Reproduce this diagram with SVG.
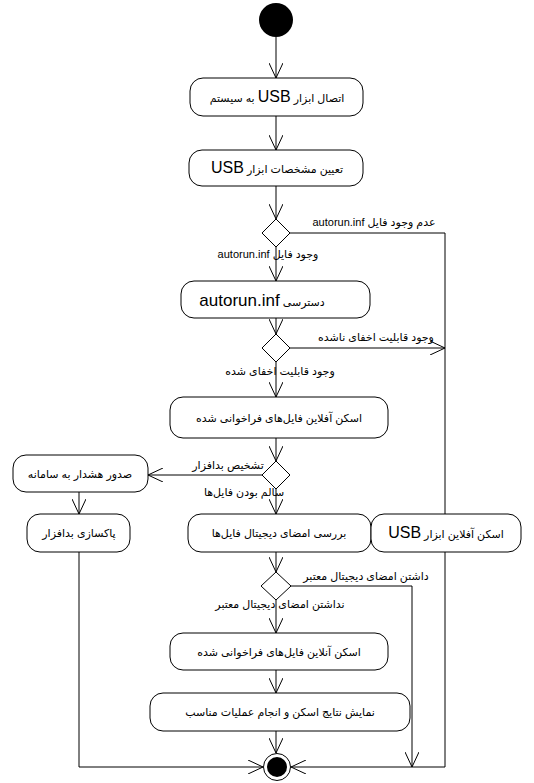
<svg xmlns="http://www.w3.org/2000/svg" width="534" height="783" viewBox="0 0 534 783">
<style>
.n{fill:#fff;stroke:#000;stroke-width:1}
.c{fill:none;stroke:#000;stroke-width:1}
text{font-family:"Liberation Sans","DejaVu Sans",sans-serif;font-size:11px;fill:#000}
.t{direction:rtl;text-anchor:middle}
.big{font-size:16px}
</style>
<defs>
<marker id="a" viewBox="0 0 15 14" refX="15" refY="7" markerWidth="15" markerHeight="14" markerUnits="userSpaceOnUse" orient="auto">
<path d="M0,0 L15,7 L0,14" fill="none" stroke="#000" stroke-width="1"/>
</marker>
</defs>
<rect width="534" height="783" fill="#fff"/>
<g id="connectors">
<path class="c" d="M276,37 V78" marker-end="url(#a)"/>
<path class="c" d="M276,116 V150" marker-end="url(#a)"/>
<path class="c" d="M276,186 V219" marker-end="url(#a)"/>
<path class="c" d="M290,233 H445 V514"/>
<path class="c" d="M276,247 V281" marker-end="url(#a)"/>
<path class="c" d="M276,318 V334" marker-end="url(#a)"/>
<path class="c" d="M290,348 H445" marker-end="url(#a)"/>
<path class="c" d="M276,362 V397" marker-end="url(#a)"/>
<path class="c" d="M276,438 V461" marker-end="url(#a)"/>
<path class="c" d="M263,475 H148" marker-end="url(#a)"/>
<path class="c" d="M276,489 V514" marker-end="url(#a)"/>
<path class="c" d="M79,492 V514" marker-end="url(#a)"/>
<path class="c" d="M79,552 V767 H263" marker-end="url(#a)"/>
<path class="c" d="M276,552 V572" marker-end="url(#a)"/>
<path class="c" d="M291,586 H412 V767" marker-end="url(#a)"/>
<path class="c" d="M276,600 V633" marker-end="url(#a)"/>
<path class="c" d="M276,670 V693" marker-end="url(#a)"/>
<path class="c" d="M276,731 V753" marker-end="url(#a)"/>
<path class="c" d="M445,552 V767 H291" marker-end="url(#a)"/>
</g>
<g id="start"><circle cx="276" cy="20" r="17" fill="#000"/></g>
<g id="n1"><rect class="n" x="190" y="78" width="173" height="38" rx="13"/>
<text class="t" x="277" y="102">اتصال ابزار <tspan class="big">USB</tspan> به سیستم</text></g>
<g id="n2"><rect class="n" x="189" y="150" width="174" height="36" rx="13"/>
<text class="t" x="277" y="173">تعیین مشخصات ابزار <tspan class="big">USB</tspan></text></g>
<g id="d1"><path class="n" d="M276,219 L290,233 L276,247 L262,233 Z"/>
<text class="t" x="374" y="226">عدم وجود فایل autorun.inf</text>
<text class="t" x="268" y="258">وجود فایل autorun.inf</text></g>
<g id="n3"><rect class="n" x="181" y="281" width="189" height="37" rx="13"/>
<text class="t" x="262" y="306">دسترسی <tspan font-size="17">autorun.inf</tspan></text></g>
<g id="d2"><path class="n" d="M276,334 L290,348 L276,362 L262,348 Z"/>
<text class="t" x="376" y="341">وجود قابلیت اخفای ناشده</text>
<text class="t" x="280" y="375">وجود قابلیت اخفای شده</text></g>
<g id="n4"><rect class="n" x="170" y="397" width="218" height="41" rx="13"/>
<text class="t" x="279" y="422">اسکن آفلاین فایل‌های فراخوانی شده</text></g>
<g id="d3"><path class="n" d="M276,461 L290,475 L276,489 L262,475 Z"/>
<text class="t" x="228" y="469">تشخیص بدافزار</text>
<text class="t" x="244" y="496">سالم بودن فایل‌ها</text></g>
<g id="n5"><rect class="n" x="13" y="455" width="135" height="37" rx="13"/>
<text class="t" x="80" y="478">صدور هشدار به سامانه</text></g>
<g id="n6"><rect class="n" x="27" y="514" width="103" height="38" rx="13"/>
<text class="t" x="79" y="537">پاکسازی بدافزار</text></g>
<g id="n7"><rect class="n" x="188" y="514" width="183" height="38" rx="13"/>
<text class="t" x="279" y="537">بررسی امضای دیجیتال فایل‌ها</text></g>
<g id="n8"><rect class="n" x="371" y="514" width="150" height="38" rx="13"/>
<text class="t" x="446" y="538">اسکن آفلاین ابزار <tspan class="big">USB</tspan></text></g>
<g id="d4"><path class="n" d="M276,572 L291,586 L276,600 L261,586 Z"/>
<text class="t" x="366" y="580">داشتن امضای دیجیتال معتبر</text>
<text class="t" x="280" y="608">نداشتن امضای دیجیتال معتبر</text></g>
<g id="n9"><rect class="n" x="170" y="633" width="218" height="37" rx="13"/>
<text class="t" x="279" y="656">اسکن آنلاین فایل‌های فراخوانی شده</text></g>
<g id="n10"><rect class="n" x="150" y="693" width="260" height="38" rx="13"/>
<text class="t" x="280" y="716">نمایش نتایج اسکن و انجام عملیات مناسب</text></g>
<g id="end"><circle cx="277" cy="767" r="13.5" fill="#fff" stroke="#000" stroke-width="1"/><circle cx="277" cy="767" r="10" fill="#000"/></g>
</svg>
